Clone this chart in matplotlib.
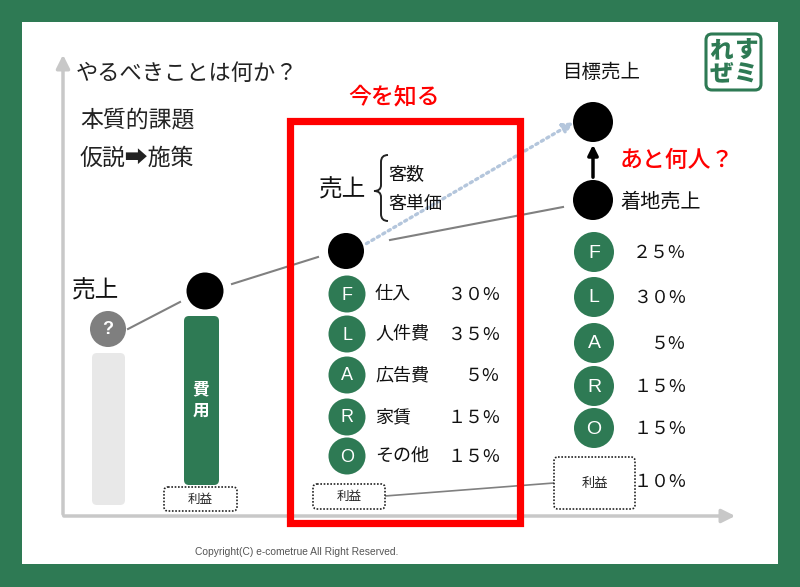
import matplotlib
matplotlib.use('Agg')
import matplotlib.pyplot as plt
from matplotlib.patches import Circle, FancyBboxPatch, Rectangle, PathPatch
from matplotlib.path import Path

plt.rcParams['font.family'] = ['Noto Sans CJK JP', 'DejaVu Sans']

# --- data ---
cost_letters = ['F', 'L', 'A', 'R', 'O']
cost_names = ['仕入', '人件費', '広告費', '家賃', 'その他']
current_pct = [30, 35, 5, 15, 15]
target_pct = [25, 30, 5, 15, 15]
target_profit_pct = 10
sales_parts = ['客数', '客単価']

GREEN = '#2e7a54'
GRAY_LINE = '#808080'
RED = '#ff0000'

FW = {ord('0') + i: chr(0xFF10 + i) for i in range(10)}


def pct(v):
    return str(v).translate(FW) + '%'


fig = plt.figure(figsize=(8, 5.87), dpi=100)
fig.patch.set_facecolor(GREEN)
ax = fig.add_axes([0, 0, 1, 1])
ax.set_xlim(0, 800)
ax.set_ylim(587, 0)
ax.axis('off')

# white slide
ax.add_patch(Rectangle((22, 22), 756, 542, facecolor='white', edgecolor='none', zorder=0))

# axes arrows
ax.annotate('', xy=(63, 52), xytext=(63, 517),
            arrowprops=dict(arrowstyle='-|>,head_length=0.8,head_width=0.4', color='#c8c8c8', lw=2.5))
ax.annotate('', xy=(738, 516), xytext=(61, 516),
            arrowprops=dict(arrowstyle='-|>,head_length=0.8,head_width=0.4', color='#c8c8c8', lw=2.5))

# headings
ax.text(76, 73, 'やるべきことは何か？', fontsize=16, color='#222222', va='center', ha='left')
ax.text(80, 120, '本質的課題', fontsize=16.5, color='#222222', va='center', ha='left')
ax.text(80, 158, '仮説➡施策', fontsize=16.5, color='#222222', va='center', ha='left')

# logo
ax.add_patch(FancyBboxPatch((706, 34), 55, 56, boxstyle='round,pad=0,rounding_size=6',
                            facecolor='white', edgecolor=GREEN, lw=2.2))
for ch, (x, y) in zip('れすぜミ', [(721, 50), (746, 50), (721, 74), (746, 74)]):
    ax.text(x, y, ch, fontsize=17, fontweight='heavy', color=GREEN, ha='center', va='center')


def dotted_box(x, y, w, h, fs):
    ax.add_patch(FancyBboxPatch((x, y), w, h, boxstyle='round,pad=0,rounding_size=4',
                                facecolor='white', edgecolor='#222222', lw=1.2, ls=(0, (1, 1)), zorder=3))
    ax.text(x + w / 2, y + h / 2, '利益', fontsize=fs, ha='center', va='center', color='#222222', zorder=4)


def letter_circle(x, y, r, letter, fs):
    ax.add_patch(Circle((x, y), r, facecolor=GREEN, edgecolor='none', zorder=3))
    ax.text(x, y + 1, letter, fontsize=fs, color='white', family='Liberation Sans',
            ha='center', va='center', zorder=4)


# --- left column: unknown sales ---
ax.add_patch(FancyBboxPatch((92, 353), 33, 152, boxstyle='round,pad=0,rounding_size=5',
                            facecolor='#e8e8e8', edgecolor='none'))
ax.add_patch(Circle((108, 329), 18, facecolor='#7f7f7f', edgecolor='none', zorder=3))
ax.text(108, 330, '?', fontsize=13, fontweight='bold', color='white', family='Liberation Sans',
        ha='center', va='center', zorder=4)
ax.text(72, 291, '売上', fontsize=17, color='#111111', ha='left', va='center')

# --- second column: cost bar ---
ax.add_patch(FancyBboxPatch((184, 316), 35, 169, boxstyle='round,pad=0,rounding_size=5',
                            facecolor=GREEN, edgecolor='none'))
ax.text(201, 389, '費', fontsize=12, fontweight='bold', color='white', ha='center', va='center')
ax.text(201, 411, '用', fontsize=12, fontweight='bold', color='white', ha='center', va='center')
ax.add_patch(Circle((205, 291), 18.5, facecolor='black', edgecolor='none', zorder=3))
dotted_box(164, 487, 73, 24, 9)

# connecting lines
ax.plot([128, 180], [329, 302], color=GRAY_LINE, lw=1.5)
ax.plot([232, 318], [284, 257], color=GRAY_LINE, lw=1.5)
ax.plot([390, 563], [240, 207], color=GRAY_LINE, lw=1.5)
ax.plot([385, 554], [496, 483], color=GRAY_LINE, lw=1.2)
ax.annotate('', xy=(576, 121), xytext=(364, 245),
            arrowprops=dict(arrowstyle='-|>,head_length=0.6,head_width=0.3', color='#b4c6dc',
                            lw=2.4, ls=(0, (0.7, 1.2))))

# --- red box: current state ---
ax.add_patch(Rectangle((290, 121), 230, 402, facecolor='none', edgecolor=RED, lw=5.2, zorder=5))
ax.text(394, 97, '今を知る', fontsize=16.5, fontweight='medium', color=RED, ha='center', va='center')

ax.text(319, 190, '売上', fontsize=17, color='#111111', ha='left', va='center')
brace = Path([(388, 155), (381, 155), (381, 162), (381, 185), (381, 191), (374, 191),
              (381, 191), (381, 197), (381, 214), (381, 221), (388, 221)],
             [Path.MOVETO, Path.CURVE3, Path.CURVE3, Path.LINETO, Path.CURVE3, Path.CURVE3,
              Path.CURVE3, Path.CURVE3, Path.LINETO, Path.CURVE3, Path.CURVE3])
ax.add_patch(PathPatch(brace, facecolor='none', edgecolor='#222222', lw=1.4))
for i, s in enumerate(sales_parts):
    ax.text(388, 174 + i * 30, s, fontsize=13, color='#111111', ha='left', va='center')

ax.add_patch(Circle((346, 251), 18, facecolor='black', edgecolor='none', zorder=3))

mid_y = [294, 334, 375, 417, 456]
for letter, name, v, y in zip(cost_letters, cost_names, current_pct, mid_y):
    letter_circle(347, y, 18.5, letter, 13)
    ax.text(375, y, name, fontsize=13, color='#111111', ha='left', va='center')
    ax.text(500, y + 1, pct(v), fontsize=13, color='#111111', ha='right', va='center')
dotted_box(313, 484, 72, 25, 9)

# --- right column: target ---
ax.text(602, 73, '目標売上', fontsize=14, color='#111111', ha='center', va='center')
ax.add_patch(Circle((593, 122), 20, facecolor='black', edgecolor='none', zorder=3))
ax.add_patch(Circle((593, 200), 20, facecolor='black', edgecolor='none', zorder=3))
ax.annotate('', xy=(593, 142), xytext=(593, 180),
            arrowprops=dict(arrowstyle='-|>,head_length=0.6,head_width=0.3', color='black', lw=2.5))
ax.text(620, 160, 'あと何人？', fontsize=16.5, fontweight='medium', color=RED, ha='left', va='center')
ax.text(620, 202, '着地売上', fontsize=14.5, color='#111111', ha='left', va='center')

right_y = [252, 297, 343, 386, 428]
for letter, v, y in zip(cost_letters, target_pct, right_y):
    letter_circle(594, y, 20, letter, 14)
    ax.text(686, y + 1, pct(v), fontsize=13, color='#111111', ha='right', va='center')
dotted_box(554, 457, 81, 52, 9.5)
ax.text(686, 482, pct(target_profit_pct), fontsize=13, color='#111111', ha='right', va='center')

ax.text(195, 552, 'Copyright(C) e-cometrue All Right Reserved.', fontsize=7.4, color='#555555',
        family='Liberation Sans', ha='left', va='center')

fig.savefig('out.png', dpi=100, facecolor=GREEN)
